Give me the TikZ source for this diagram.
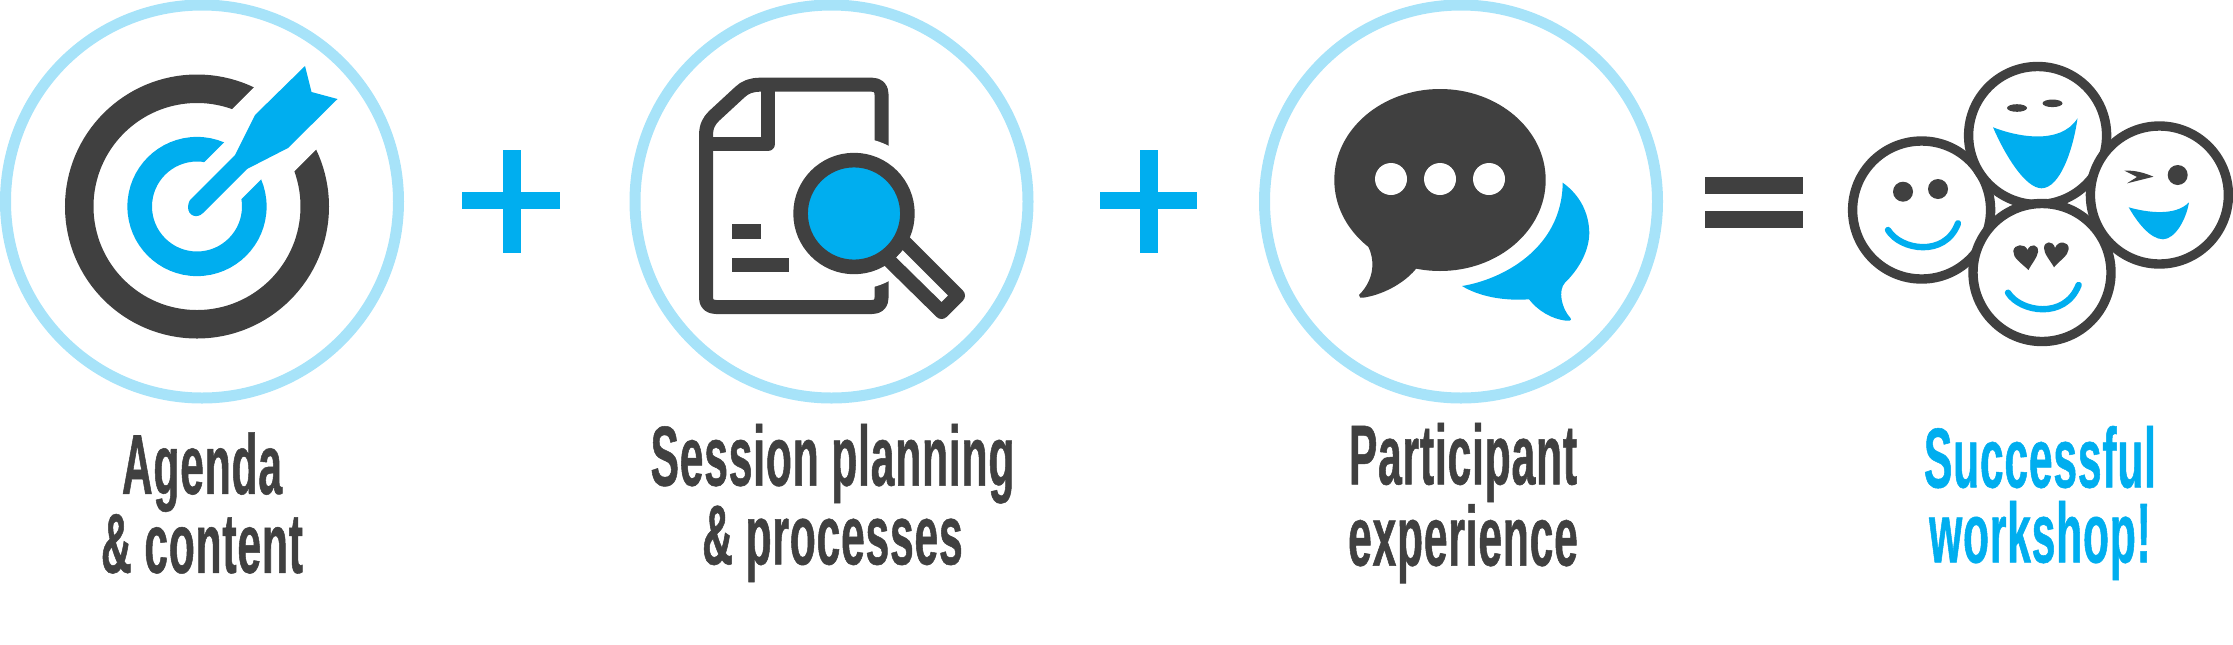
\documentclass[tikz,border=0pt]{standalone}
\usepackage{fontspec}
\newfontfamily\labelfont[FakeStretch=0.5,FakeBold=0.6,LetterSpace=1]{Liberation Sans Bold}
\definecolor{darkgrey}{HTML}{404040}
\definecolor{iconblue}{HTML}{00AEEF}
\definecolor{ringblue}{HTML}{A7E3F9}
\tikzset{
  ring/.style={circle, draw=ringblue, line width=5.5pt, minimum size=196.5pt, inner sep=0pt},
  face/.style={circle, draw=darkgrey, fill=white, line width=4.7pt, minimum size=69pt, inner sep=0pt},
  dot/.style={circle, fill=#1, inner sep=0pt, minimum size=16pt},
  bar/.style={fill=#1},
  smile/.style={draw=iconblue, line width=3.2pt, line cap=round},
  caption/.style={align=center, text=#1, font=\labelfont\fontsize{42.5}{37.5}\selectfont}
}
\begin{document}
\begin{tikzpicture}[x=0.5pt,y=-0.5pt]
\useasboundingbox (0,0) rectangle (2233,644);
\node[ring] (ringA) at (202,201.5){};
\node[ring] (ringB) at (831.5,201.5){};
\node[ring] (ringC) at (1461,201.5){};

\draw[darkgrey, line width=14.25pt] (197,206.5) circle[radius=117.75];
\draw[white, line width=44pt] (197,206.5) -- (300,103.5);
\draw[iconblue, line width=12.3pt] (197,206.5) circle[radius=57.3];
\draw[white, line width=26pt] (197,206.5) -- (255,148.5);
\fill[iconblue] (190,200) -- (235,155) -- (255,115) -- (305,66) -- (311.5,92) -- (337.5,99) -- (288,148) -- (247,169) -- (203,213) .. controls (197,219) and (188,216) .. (188,207) .. controls (188,204) and (189,202) .. (190,200) -- cycle;

\fill[bar=iconblue] (462,192) rectangle (559.5,209);
\fill[bar=iconblue] (502.5,150) rectangle (521,252.7);
\fill[bar=iconblue] (1099.6,192) rectangle (1197,209);
\fill[bar=iconblue] (1140,150) rectangle (1158,252.7);

\draw[darkgrey, line width=7pt, line join=round] (706,136) .. controls (706,126) and (709,121) .. (714,116) -- (740,92) .. controls (745,87) and (752,84.7) .. (760,84.7) -- (872,84.7) .. controls (878,84.7) and (881.5,88) .. (881.5,94) -- (881.5,298) .. controls (881.5,304) and (878,307) .. (872,307) -- (716,307) .. controls (710,307) and (706,304) .. (706,298) -- cycle;
\draw[darkgrey, line width=7pt, line join=round] (768,84.7) -- (768,144) -- (706,144);
\node[circle, fill=white, minimum size=76pt, inner sep=0pt] (halo) at (854,213.5){};
\fill[bar=darkgrey] (731.5,224.3) rectangle (761,239);
\fill[bar=darkgrey] (731.5,257.7) rectangle (789,272.3);
\draw[darkgrey, fill=white, line width=7pt, line join=round] (902.5,240) -- (958,295.6) -- (941.6,312) -- (886,257.4) -- cycle;
\node[circle, draw=darkgrey, fill=iconblue, line width=7.3pt, minimum size=53.4pt, inner sep=0pt] (lens) at (854,213.5){};

\fill[darkgrey] (1440,180) ellipse[x radius=105.7, y radius=91];
\fill[darkgrey] (1368.3,246.7) .. controls (1374,258) and (1376,278) .. (1359,295) .. controls (1359,298) and (1361,298) .. (1363,297.7) .. controls (1382,295) and (1403,284) .. (1415,270) -- (1440,240) -- cycle;
\node[dot=white] (dotA) at (1391,179){};
\node[dot=white] (dotB) at (1440,179){};
\node[dot=white] (dotC) at (1489,179){};
\fill[iconblue] (1462,286) .. controls (1500,280) and (1562,250) .. (1562.7,182.7) .. controls (1580,195) and (1589,213) .. (1589.3,233) .. controls (1589,252) and (1578,270) .. (1565,282.7) .. controls (1558,290) and (1561,308) .. (1570.7,318.3) .. controls (1572,321) and (1568,321) .. (1566,320.7) .. controls (1552,319) and (1538,311) .. (1529,299.3) .. controls (1505,301) and (1480,297) .. (1462,286) -- cycle;

\fill[bar=darkgrey] (1705,176.7) rectangle (1803,194.3);
\fill[bar=darkgrey] (1705,210.7) rectangle (1803,227.7);

\node[face] (faceL) at (1921.6,210){};
\node[face] (faceT) at (2037.6,135.5){};
\node[face] (faceR) at (2159.4,195){};
\node[face] (faceB) at (2042,272.5){};

\fill[darkgrey] (1903,191.7) ellipse[x radius=10, y radius=10];
\fill[darkgrey] (1938,189) ellipse[x radius=10, y radius=10];
\draw[smile] (1888,230) .. controls (1900,250) and (1945,258) .. (1958,223.3);

\fill[darkgrey] (2017,108) ellipse[x radius=10, y radius=3.8];
\fill[darkgrey] (2052.5,103.3) ellipse[x radius=10, y radius=3.8];
\fill[iconblue] (1993,127.3) .. controls (2015,136) and (2060,146) .. (2077.5,118.3) .. controls (2073,150) and (2060,188) .. (2041.5,188.3) .. controls (2025,188) and (2005,155) .. (1993,127.3) -- cycle;

\fill[darkgrey] (2177.7,175) circle[radius=10];
\fill[darkgrey] (2124.4,170.7) .. controls (2135,170) and (2145,173) .. (2153.4,176.7) -- (2127,183.3) -- (2137,177) -- cycle;
\fill[iconblue] (2128.7,207.3) .. controls (2145,212) and (2175,217) .. (2189,202.3) .. controls (2186,220) and (2175,239) .. (2163,239.3) .. controls (2150,239) and (2137,222) .. (2128.7,207.3) -- cycle;

\fill[darkgrey] (2028.5,270) .. controls (2020,262) and (2013,258) .. (2013.3,251) .. controls (2014,244) and (2025,243) .. (2027.5,250) .. controls (2030,243) and (2039,244) .. (2038,252) .. controls (2037,258) and (2032,263) .. (2028.5,270) -- cycle;
\fill[darkgrey] (2054,267.3) .. controls (2050,260) and (2044,254) .. (2044,248) .. controls (2044,241) and (2053,240) .. (2055,248) .. controls (2058,240) and (2069,241) .. (2068.7,249) .. controls (2068,256) and (2060,260) .. (2054,267.3) -- cycle;
\draw[smile] (2008,292.7) .. controls (2020,312) and (2065,320) .. (2078.6,285);

\node[caption=darkgrey] (agenda) at (202,503){Agenda\\\& content};
\node[caption=darkgrey] (session) at (832.5,503){Session planning\\\& processes};
\node[caption=darkgrey] (participant) at (1463,503){Participant\\experience};
\node[caption=iconblue] (successful) at (2040,503){Successful\\workshop!};
\end{tikzpicture}
\end{document}
